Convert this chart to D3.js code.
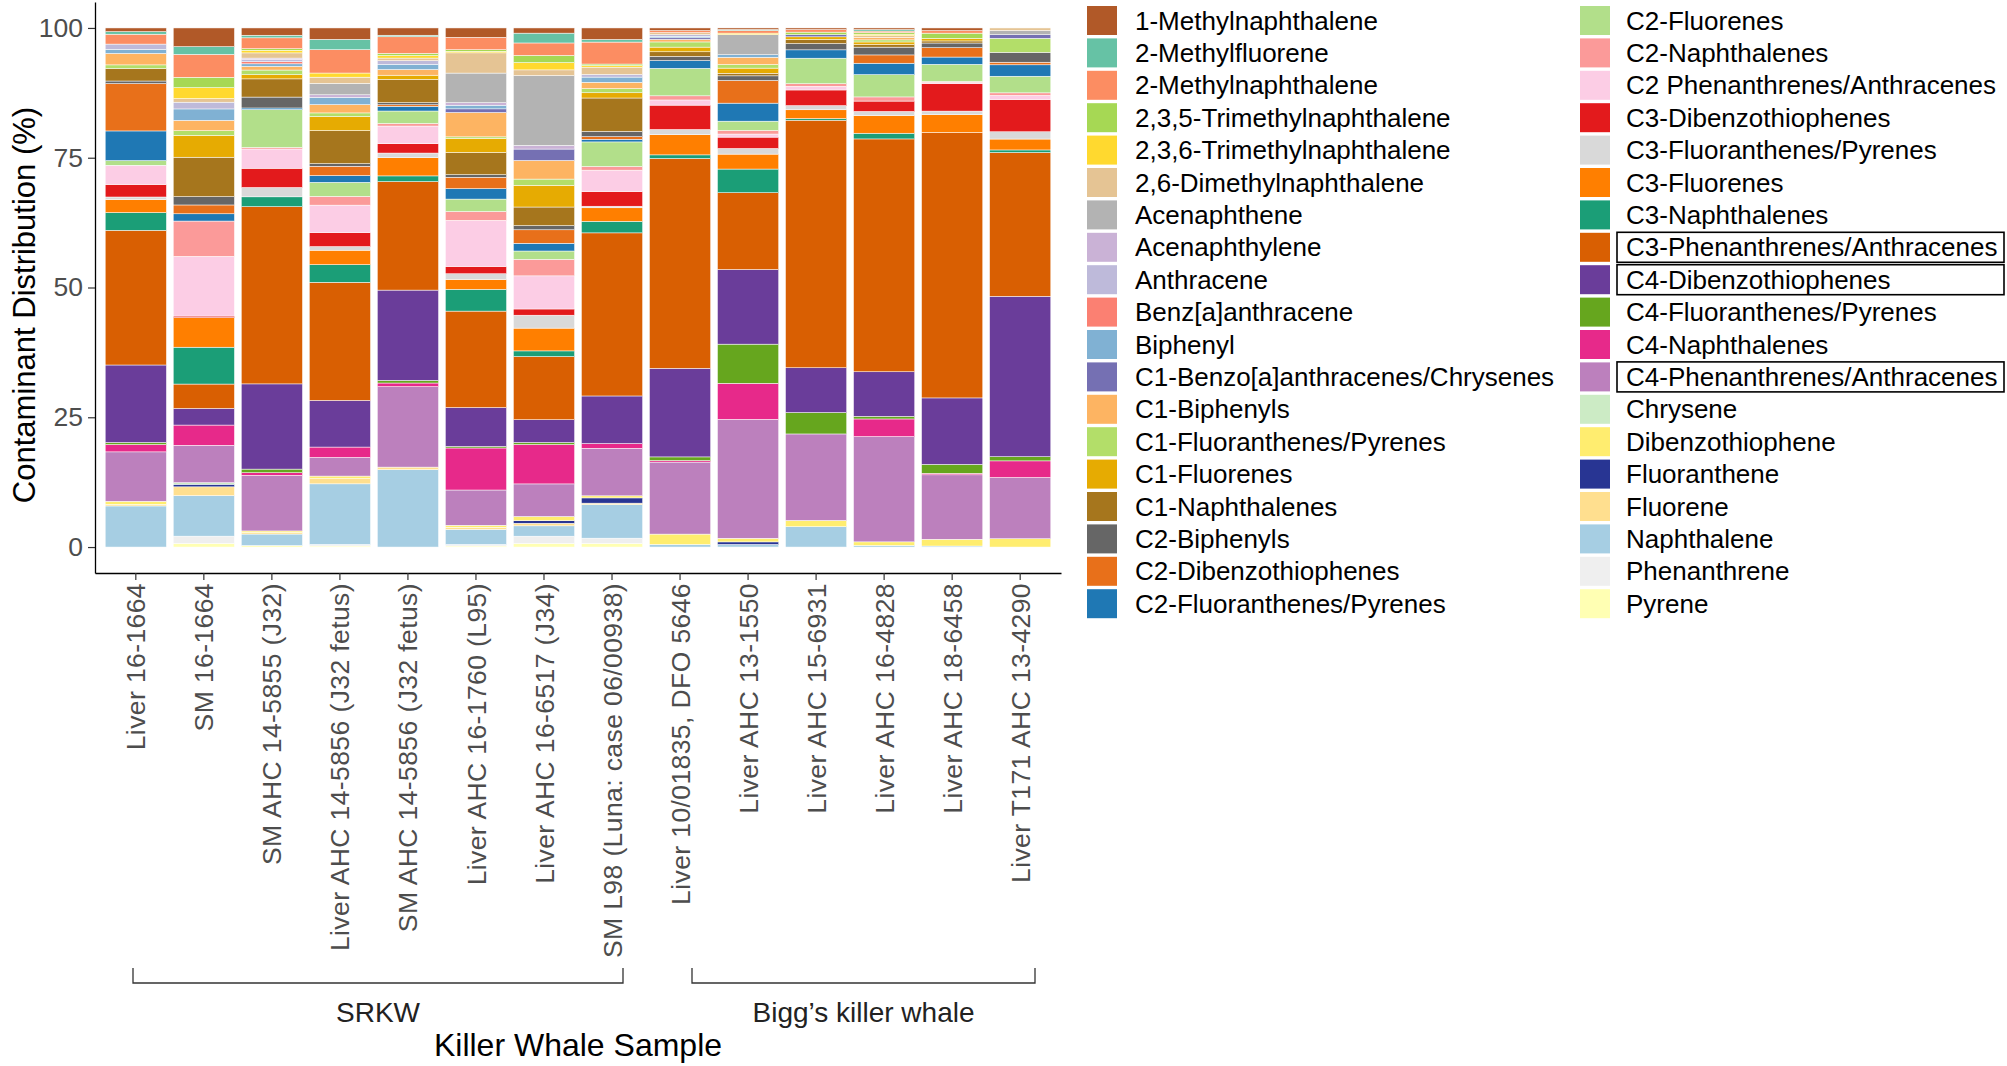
<!DOCTYPE html>
<html><head><meta charset="utf-8">
<script src="https://cdn.jsdelivr.net/npm/d3@7"></script>
<style>
body{margin:0;background:#fff;}
svg{display:block;font-family:"Liberation Sans",Arial,Helvetica,sans-serif;}
</style>
</head><body>
<svg id="chart" width="2007" height="1066"></svg>
<script>
// ---------- DATA ----------
const samples = ["Liver 16-1664","SM 16-1664","SM AHC 14-5855 (J32)","Liver AHC 14-5856 (J32 fetus)",
  "SM AHC 14-5856 (J32 fetus)","Liver AHC 16-1760 (L95)","Liver AHC 16-6517 (J34)","SM L98 (Luna: case 06/00938)",
  "Liver 10/01835, DFO 5646","Liver AHC 13-1550","Liver AHC 15-6931","Liver AHC 16-4828","Liver AHC 18-6458","Liver T171 AHC 13-4290"];
const groupNames = ["SRKW","Bigg’s killer whale"];
const compounds = ["1-Methylnaphthalene","2-Methylfluorene","2-Methylnaphthalene","2,3,5-Trimethylnaphthalene",
  "2,3,6-Trimethylnaphthalene","2,6-Dimethylnaphthalene","Acenaphthene","Acenaphthylene","Anthracene",
  "Benz[a]anthracene","Biphenyl","C1-Benzo[a]anthracenes/Chrysenes","C1-Biphenyls","C1-Fluoranthenes/Pyrenes",
  "C1-Fluorenes","C1-Naphthalenes","C2-Biphenyls","C2-Dibenzothiophenes","C2-Fluoranthenes/Pyrenes",
  "C2-Fluorenes","C2-Naphthalenes","C2 Phenanthrenes/Anthracenes","C3-Dibenzothiophenes",
  "C3-Fluoranthenes/Pyrenes","C3-Fluorenes","C3-Naphthalenes","C3-Phenanthrenes/Anthracenes",
  "C4-Dibenzothiophenes","C4-Fluoranthenes/Pyrenes","C4-Naphthalenes","C4-Phenanthrenes/Anthracenes",
  "Chrysene","Dibenzothiophene","Fluoranthene","Fluorene","Naphthalene","Phenanthrene","Pyrene"];
const colors = ["#B15928","#66C2A5","#FC8D62","#A6D854","#FFD92F","#E5C494","#B3B3B3","#CAB2D6","#BEBADA",
  "#FB8072","#80B1D3","#7570B3","#FDB462","#B3DE69","#E6AB02","#A6761D","#666666","#E8701A","#1F78B4",
  "#B2DF8A","#FB9A99","#FCCDE5","#E31A1C","#D9D9D9","#FF7F00","#1B9E77","#D95F02","#6A3D9A","#66A61E",
  "#E7298A","#BC80BD","#CCEBC5","#FFED6F","#283593","#FFDF8F","#A6CEE3","#EFEFEF","#FFFFB3"];
const highlighted = ["C3-Phenanthrenes/Anthracenes","C4-Dibenzothiophenes","C4-Phenanthrenes/Anthracenes"];
const yTicks = [0, 25, 50, 75, 100];

// percent of each compound per sample, in the order of `compounds`
const s01 = [0.7,0.5,1.9,0,0,0,0,0,1.0,0, 0.8,0,2.2,0.7,0,2.4,0.5,9.1,5.7,0.9, 0,3.7,2.4,0.5,2.5,3.4,25.9,14.9,0.4,1.4, 9.5,0,0.6,0,0.3,7.9,0,0];
const s02 = [3.6,1.5,4.4,2.0,2.1,0.7,0,0,1.3,0, 2.2,0,2.0,0.9,4.2,7.6,1.6,1.7,1.4,0, 6.8,11.5,0.3,0,5.7,7.1,4.7,3.2,0,3.9, 7.2,0.3,0,0.5,1.7,7.8,1.4,0.7];
const s03 = [1.4,0.5,2.1,0.3,0.5,1.0,0,0.3,0.4,0.4, 0.5,0,0.7,0.9,0.8,3.5,2.1,0,0.3,7.3, 0.3,3.7,3.7,1.8,0,1.9,34.1,16.4,0.7,0.5, 10.7,0,0.3,0,0.3,2.2,0,0.3];
const s04 = [2.2,2.0,4.5,0,0.8,1.2,2.2,0.5,0,0, 1.4,0,1.6,0.7,2.7,6.4,0.5,1.8,1.3,2.7, 1.7,5.3,2.7,0.7,2.8,3.4,22.8,9.0,0,2.0, 3.6,0,0.5,0,1.0,11.7,0.3,0.2];
const s05 = [1.4,0.3,3.2,0.4,0.5,0.5,0,0,0.7,0, 1.0,0,1.1,0,0.8,4.5,0.4,0.3,0.9,2.4, 0.5,3.4,1.8,0.9,3.5,1.1,20.9,17.4,0.5,0.7, 15.5,0,0,0,0.5,14.9,0,0];
const s06 = [1.8,0,2.4,0.3,0.3,3.9,5.7,0.5,0,0, 0.7,0.7,4.7,0.3,2.7,4.3,0.5,2.2,2.0,2.4, 1.7,8.9,1.4,1.1,1.9,4.2,18.6,7.5,0.3,8.1, 6.8,0,0.4,0,0.4,2.9,0.3,0.2];
const s07 = [1.0,1.9,2.4,1.4,1.4,1.1,13.5,0.7,0,0, 0,2.2,3.6,1.2,4.2,3.6,0.8,2.6,1.5,1.6, 3.2,6.4,1.2,2.5,4.4,1.1,12.2,4.4,0.4,7.6, 6.3,0,0.8,0.5,0.5,2.0,1.4,0.7];
const s08 = [2.2,0.5,4.2,0.3,0.3,1.4,0,0,0.5,0, 1.0,0,1.2,0.8,1.0,6.4,1.0,0.5,0.5,4.7, 0.7,4.1,2.8,0.3,2.6,2.2,31.2,9.1,0,0.9, 9.1,0,0.4,1.0,0.3,6.4,1.0,0.7];
const s09 = [0.5,0,0.4,0,0,0.4,0,0,0.3,0, 0.3,0.3,0.5,1.0,0.9,0.9,0.8,0,1.5,5.3, 0.8,1.0,4.7,1.0,3.9,0.7,40.5,17.1,0.7,0.3, 13.9,0,2.0,0,0,0.5,0,0];
const s10 = [0.3,0.2,0.5,0,0.3,0,3.9,0,0,0, 0.5,0,1.4,0.7,1.0,0.5,0.9,4.4,3.5,1.8, 0.7,0.6,2.2,1.1,2.9,4.6,14.9,14.5,7.6,7.0, 23.1,0,0.7,0.5,0,0.5,0,0];
const s11 = [0.3,0,0.5,0.5,0,0,0,0,0,0, 0,0.4,0,0,0.5,0.8,1.2,0,1.6,4.9, 0.5,0.7,3.0,0.8,1.7,0.3,47.5,8.6,4.1,0, 16.6,0,1.2,0,0,3.9,0,0];
const s12 = [0.3,0.3,0.3,0.3,0.3,0.3,0,0,0,0, 0,0,0.5,0.4,0.5,0.5,1.5,1.6,2.2,4.3, 0.8,0,2.0,0.8,3.4,1.1,44.9,8.6,0.5,3.4, 20.3,0,0.7,0,0,0.3,0,0];
const s13 = [0.5,0,0.5,1.0,0,0,0,0,0,0, 0,0,0,0,0.5,0.4,0.9,1.8,1.4,3.3, 0.2,0.2,5.3,0.7,3.4,0,51.1,12.8,1.7,0.3, 12.4,0,1.3,0,0,0.2,0,0];
const s14 = [0,0,0,0,0,0.5,0.8,0,0,0, 0,0.7,0,2.7,0,0,1.9,0.5,2.2,3.2, 0.5,0.8,6.2,1.4,2.1,0.5,27.7,30.9,0.8,3.2, 11.8,0,1.6,0,0,0,0,0];
const sampleValues = [s01,s02,s03,s04,s05,s06,s07,s08,s09,s10,s11,s12,s13,s14];

// ---------- CHART ----------
const svg = d3.select("#chart");
svg.append("rect").attr("width",2007).attr("height",1066).attr("fill","#fff");

const rows = samples.map((s,i)=>{const o={sample:s}; compounds.forEach((c,j)=>o[c]=sampleValues[i][j]); return o;});
const color = d3.scaleOrdinal().domain(compounds).range(colors);

const x = d3.scaleBand().domain(samples).range([95,1061]).paddingInner(0.1).paddingOuter(0.15);
const y = d3.scaleLinear().domain([-5,105]).range([573,2]);

// ggplot stacks first level on top -> reverse keys for d3 (first key at bottom)
const stack = d3.stack().keys(compounds.slice().reverse()).offset(d3.stackOffsetExpand);
const series = stack(rows);

const gBars = svg.append("g");
gBars.selectAll("g").data(series).join("g")
  .attr("fill", d=>color(d.key))
  .selectAll("rect").data(d=>d).join("rect")
  .attr("x", d=>x(d.data.sample))
  .attr("width", x.bandwidth())
  .attr("y", d=>y(d[1]*100))
  .attr("height", d=>Math.max(0, y(d[0]*100)-y(d[1]*100)))
  .attr("stroke","#fff").attr("stroke-width",0.5);

// axes
const yAxis = svg.append("g").attr("transform","translate(95,0)")
  .call(d3.axisLeft(y).tickValues(yTicks).tickSize(7).tickSizeOuter(0).tickPadding(5));
yAxis.select(".domain").attr("stroke","#000").attr("stroke-width",1.3);
yAxis.selectAll(".tick line").attr("stroke","#333").attr("stroke-width",1.2);
yAxis.selectAll(".tick text").attr("fill","#4D4D4D").attr("font-size",26.5);

const xAxis = svg.append("g").attr("transform","translate(0,573)")
  .call(d3.axisBottom(x).tickSize(7).tickSizeOuter(0));
xAxis.select(".domain").attr("stroke","#000").attr("stroke-width",1.3);
xAxis.selectAll(".tick line").attr("stroke","#333").attr("stroke-width",1.2);
xAxis.selectAll(".tick text")
  .attr("fill","#4D4D4D").attr("font-size",26.5)
  .attr("letter-spacing",0.4)
  .attr("transform","rotate(-90)")
  .attr("x",-10).attr("y",0).attr("dy","0.36em")
  .attr("text-anchor","end");

// axis titles
svg.append("text").attr("transform","translate(24,305) rotate(-90)")
  .attr("text-anchor","middle").attr("dominant-baseline","central")
  .attr("font-size",31).attr("fill","#000").text("Contaminant Distribution (%)");
svg.append("text").attr("x",578).attr("y",1056).attr("text-anchor","middle")
  .attr("font-size",32).attr("fill","#000").text("Killer Whale Sample");

// group brackets
const bx = [[133,623],[692,1035]];
groupNames.forEach((g,i)=>{
  const x0 = bx[i][0], x1 = bx[i][1];
  svg.append("path").attr("d",`M${x0},968V983H${x1}V968`).attr("fill","none")
    .attr("stroke","#333").attr("stroke-width",1.3);
  svg.append("text").attr("x",(x0+x1)/2).attr("y",1022).attr("text-anchor","middle")
    .attr("font-size",28).attr("fill","#222").text(g);
});

// legend
const leg = svg.append("g");
compounds.forEach((c,i)=>{
  const col = i<19?0:1, row = i%19;
  const cy = 20.5 + 32.4*row;
  const kx = col===0?1087:1580, tx = col===0?1135:1626;
  leg.append("rect").attr("x",kx).attr("y",cy-14.5).attr("width",30).attr("height",29).attr("fill",color(c));
  leg.append("text").attr("x",tx).attr("y",cy).attr("dominant-baseline","central")
    .attr("font-size",26).attr("fill","#000").text(c);
  if (highlighted.includes(c)) {
    leg.append("rect").attr("x",1617).attr("y",cy-15).attr("width",387).attr("height",30)
      .attr("fill","none").attr("stroke","#000").attr("stroke-width",1.6);
  }
});
</script>
</body></html>
